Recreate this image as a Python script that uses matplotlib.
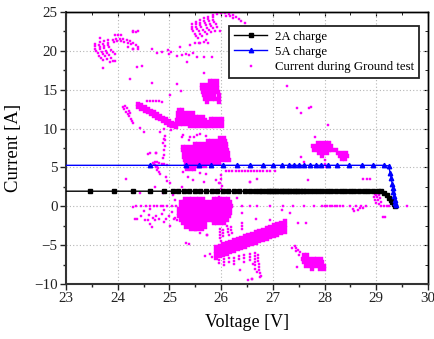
import matplotlib
matplotlib.use("Agg")
import matplotlib.pyplot as plt
from matplotlib.ticker import MultipleLocator

plt.rcParams["font.family"] = ["Liberation Serif", "DejaVu Serif"]

# ---------------------------------------------------------------- charge curves
v_2a = [22.9, 23.46, 23.92, 24.30, 24.63, 24.90, 25.07, 25.17, 25.28, 25.38,
        25.49, 25.60, 25.71, 25.82, 25.93, 26.03, 26.14, 26.25, 26.35, 26.46,
        26.56, 26.65, 26.73, 26.80, 26.86, 26.92, 26.97, 27.02, 27.07, 27.12,
        27.17, 27.22, 27.27, 27.32, 27.37, 27.42, 27.47, 27.53, 27.59, 27.65,
        27.72, 27.79, 27.87, 27.95, 28.04, 28.13, 28.22, 28.31, 28.40, 28.49,
        28.58, 28.67, 28.76, 28.85, 28.94, 29.03, 29.10, 29.16, 29.21, 29.25,
        29.28, 29.31, 29.34, 29.36]
i_2a = [1.95, 1.95, 1.95, 1.95, 1.95, 1.95, 1.95, 1.95, 1.95, 1.95,
        1.95, 1.95, 1.95, 1.95, 1.95, 1.95, 1.95, 1.95, 1.95, 1.95,
        1.95, 1.95, 1.95, 1.95, 1.95, 1.95, 1.95, 1.95, 1.95, 1.95,
        1.95, 1.95, 1.95, 1.95, 1.95, 1.95, 1.95, 1.95, 1.95, 1.95,
        1.95, 1.95, 1.95, 1.95, 1.95, 1.95, 1.95, 1.95, 1.95, 1.95,
        1.95, 1.95, 1.95, 1.95, 1.95, 1.95, 1.93, 1.75, 1.45, 1.10,
        0.80, 0.50, 0.25, 0.10]

v_5a = [22.9, 24.62, 25.33, 25.58, 25.81, 26.04, 26.30, 26.55, 26.81, 27.01,
        27.17, 27.31, 27.41, 27.51, 27.61, 27.72, 27.83, 27.94, 28.06, 28.24,
        28.48, 28.72, 28.94, 29.16, 29.24, 29.27, 29.29, 29.31, 29.32, 29.33,
        29.35, 29.36, 29.37, 29.38]
i_5a = [5.28, 5.28, 5.28, 5.28, 5.28, 5.28, 5.28, 5.28, 5.28, 5.28,
        5.28, 5.28, 5.28, 5.28, 5.28, 5.28, 5.28, 5.28, 5.28, 5.28,
        5.28, 5.28, 5.28, 5.28, 5.20, 4.30, 3.60, 2.90, 2.30, 1.80,
        1.30, 0.80, 0.40, 0.15]

# ------------------------------------------------- ground test, isolated points
arcs_upper_left = [
    (23.57, 20.9), (23.565, 20.6), (23.57, 20.3), (23.585, 20.0), (23.61, 19.7), (23.64, 19.4), (23.67, 19.1), (23.71, 18.8),
    (23.65, 21.1), (23.645, 20.8), (23.65, 20.5), (23.665, 20.2), (23.69, 19.9), (23.72, 19.6), (23.75, 19.3), (23.79, 19.0),
    (23.73, 21.25), (23.725, 20.95), (23.73, 20.65), (23.745, 20.35), (23.77, 20.05), (23.80, 19.75), (23.83, 19.45), (23.87, 19.15),
    (23.81, 21.35), (23.81, 21.05), (23.82, 20.75), (23.84, 20.45), (23.87, 20.15), (23.90, 19.85), (23.94, 19.55),
    (23.90, 21.45), (23.97, 21.55), (24.04, 21.55), (24.11, 21.5), (24.18, 21.4), (24.24, 21.25), (24.30, 21.05), (24.35, 20.8), (24.39, 20.5),
    (23.92, 21.2), (23.99, 21.25), (24.06, 21.25), (24.13, 21.18), (24.19, 21.05), (24.25, 20.85),
    (23.66, 21.6), (23.95, 22.04), (24.01, 22.1), (24.06, 22.1), (24.30, 22.47), (24.36, 22.47),
    (23.71, 17.85), (23.85, 18.55), (23.95, 18.7), (23.90, 18.75), (24.30, 20.3), (24.38, 17.96),
    (24.24, 16.4), (24.19, 20.55), (24.29, 20.2),
]

arcs_upper_mid = [
    (25.43, 23.4), (25.43, 23.1), (25.44, 22.8), (25.46, 22.5), (25.49, 22.2), (25.52, 21.9), (25.56, 21.65),
    (25.51, 23.7), (25.51, 23.4), (25.52, 23.1), (25.54, 22.8), (25.57, 22.5), (25.60, 22.2), (25.64, 21.9),
    (25.59, 23.95), (25.59, 23.65), (25.60, 23.35), (25.62, 23.05), (25.65, 22.75), (25.68, 22.45), (25.72, 22.15),
    (25.67, 24.2), (25.67, 23.9), (25.68, 23.6), (25.70, 23.3), (25.73, 23.0), (25.76, 22.7), (25.80, 22.4),
    (25.75, 24.4), (25.75, 24.1), (25.76, 23.8), (25.78, 23.5), (25.81, 23.2), (25.84, 22.9), (25.88, 22.6),
    (25.84, 24.6), (25.84, 24.3), (25.85, 24.0), (25.87, 23.7), (25.90, 23.4), (25.93, 23.1),
    (25.92, 24.8), (26.00, 24.9), (26.08, 24.9), (26.16, 24.8), (26.23, 24.6), (26.29, 24.4), (26.34, 24.15), (26.38, 23.9),
    (26.10, 24.55), (26.17, 24.45), (26.23, 24.25),
    (25.66, 21.2), (25.75, 21.05), (25.98, 22.5), (26.46, 23.6), (25.58, 21.05), (25.70, 21.4),
]

scatter_upper = [
    (24.40, 20.2), (24.66, 20.2), (24.77, 19.76), (24.85, 19.9), (24.97, 20.1), (25.00, 19.6),
    (25.04, 19.9), (25.15, 19.3), (25.20, 20.5), (25.24, 19.5), (25.32, 19.6), (25.37, 19.5),
    (25.40, 20.75), (25.35, 18.6), (25.46, 19.7), (25.53, 19.25), (25.49, 21.0), (25.59, 21.05),
    (25.66, 19.25), (25.82, 19.25), (24.66, 15.9), (25.01, 14.3), (25.15, 15.7), (25.22, 14.9),
    (25.66, 17.2), (24.30, 22.55), (24.40, 22.55), (24.48, 18.0), (27.28, 15.5), (27.47, 12.6),
    (27.55, 12.0), (27.70, 12.7), (27.73, 12.75), (28.06, 10.5), (27.82, 8.9),
]

scatter_middle = [
    (24.62, 6.9), (24.75, 6.9), (24.91, 8.53), (24.88, 8.2), (25.04, 9.8), (24.50, 9.6),
    (24.43, 10.03), (24.82, 9.52), (25.27, 9.17), (25.37, 8.5), (25.47, 8.9), (25.59, 9.35),
    (24.90, 9.9), (24.92, 9.1), (24.90, 8.7), (24.91, 7.8), (24.89, 7.3), (24.90, 6.6),
    (24.88, 6.2), (24.93, 3.8), (24.95, 3.3), (24.59, 6.73), (24.75, 6.8), (24.17, 3.47),
    (24.43, 1.67), (24.72, 2.44), (24.88, 1.67), (25.07, 1.45), (25.11, 0.8), (25.24, 2.52),
    (25.01, 2.99), (25.27, 4.45), (25.59, 4.32), (25.66, 3.16), (25.71, 4.1), (25.91, 3.38),
    (25.95, 2.97), (25.46, 3.38), (25.36, 3.8), (25.95, 1.2), (26.56, 3.16), (26.30, 1.03),
    (26.00, 4.0), (26.00, 3.5), (25.98, 3.0), (26.02, 2.6), (26.00, 2.2), (26.03, 1.8),
    (24.68, 5.6), (24.72, 5.7), (24.76, 5.75), (24.80, 5.6), (24.85, 5.5), (24.90, 5.4),
    (24.72, 5.3), (24.74, 5.0), (24.77, 4.7), (24.79, 4.4), (24.81, 4.1), (24.95, 5.3),
    (24.70, 5.45), (24.76, 5.2), (24.78, 4.9),
    (25.24, 8.96), (25.40, 8.96), (25.53, 9.2), (25.70, 9.0), (27.55, 6.3), (28.00, 5.9),
    (28.01, 5.5), (28.03, 5.1), (27.69, 3.38), (28.75, 3.5), (28.82, 3.5), (28.88, 3.5),
    (26.56, 3.08), (27.60, 5.7), (26.70, 3.5),
]

line_4p5 = [
    (26.10, 4.55), (26.16, 4.50), (26.22, 4.55), (26.28, 4.52), (26.34, 4.55), (26.40, 4.60),
    (26.46, 4.55), (26.52, 4.50), (26.58, 4.55), (26.64, 4.55), (26.70, 4.52), (26.76, 4.55),
    (26.82, 4.60), (26.88, 4.55), (26.95, 4.50), (27.05, 4.55),
]

line_zero = [
    (26.20, 0.05), (26.40, 0.05), (26.70, 0.05), (26.95, 0.05), (27.20, 0.05), (27.40, 0.05),
    (27.60, 0.05), (27.80, 0.05), (27.95, 0.05), (28.00, 0.05), (28.05, 0.05), (28.10, 0.05),
    (28.15, 0.05), (28.20, 0.05), (28.25, 0.05), (28.30, 0.05), (28.35, 0.05), (28.50, 0.05),
    (28.55, -0.3), (28.60, 0.05), (28.65, -0.45), (28.70, 0.05), (28.75, -0.2), (28.80, 0.05),
    (28.58, -0.6), (28.68, -0.15), (29.10, 0.05), (29.15, 0.05), (29.20, 0.05), (29.25, 0.05),
    (29.59, 0.05), (29.14, -1.35), (29.17, -1.35),
    (28.97, 1.6), (29.02, 1.7), (29.06, 1.5), (28.96, 1.2), (29.02, 1.2), (29.08, 1.1),
    (28.98, 0.8), (29.04, 0.8), (29.09, 0.6), (29.00, 0.4), (29.05, 0.3), (28.99, 1.45),
]

scatter_lower_left = [
    (24.35, 0.0), (24.45, 0.0), (24.55, 0.0), (24.62, 0.0), (24.70, 0.0), (24.76, 0.0),
    (24.83, 0.0), (24.88, 0.0), (24.95, 0.0), (25.05, 0.0), (25.12, 0.0), (24.30, -0.05),
    (24.50, -0.6), (24.62, -0.4), (24.90, -0.5), (25.05, -0.7), (24.45, -1.2), (24.60, -1.1),
    (24.75, -1.3), (24.85, -1.0), (25.00, -1.2), (25.10, -1.5), (24.38, -1.6), (24.52, -1.7),
    (24.68, -1.55), (24.80, -1.6), (24.93, -1.65), (25.08, -1.6), (25.15, -1.7), (24.33, -1.6),
    (24.62, -2.3), (24.90, -2.0), (25.02, -2.5), (24.66, -2.6), (24.58, -1.75), (24.72, -1.8),
]

scatter_lower = [
    (25.40, -3.06), (25.52, -3.06), (25.65, -3.06), (25.46, -2.0), (25.72, -3.7), (25.37, -4.8),
    (25.60, -3.4), (26.56, 0.04), (27.17, -0.48), (27.33, -0.9), (27.49, -2.1), (27.65, -2.1),
    (26.95, -1.77), (26.67, -1.63), (26.40, -0.9), (25.72, -3.7), (25.69, -6.4), (25.33, -4.77),
    (26.36, -8.2), (26.75, -9.06), (26.60, -9.4), (27.46, -7.77), (25.78, -6.1), (25.82, -6.5),
    (27.38, -5.3), (27.44, -5.4), (27.48, -5.6), (27.52, -5.9), (27.45, -5.8), (27.42, -5.15),
    (27.50, -6.3),
]

spikes = [
    (25.97, -2.9), (25.97, -3.3), (25.98, -3.7), (25.98, -4.1), (25.99, -4.5), (26.03, -3.0),
    (26.03, -3.4), (26.04, -3.8), (26.12, -2.5), (26.13, -2.9), (26.14, -3.3), (26.15, -3.7),
    (26.20, -2.6), (26.20, -3.0), (26.21, -3.4), (26.40, -2.1), (26.40, -2.5), (26.41, -2.9),
    (25.95, -6.9), (25.95, -7.3), (26.05, -6.8), (26.05, -7.2), (26.05, -7.6), (26.15, -6.7),
    (26.15, -7.1), (26.25, -6.6), (26.25, -7.0), (26.25, -7.4), (26.35, -6.4), (26.35, -6.8),
    (26.45, -6.3), (26.45, -6.7), (26.45, -7.1), (26.55, -6.1), (26.55, -6.5), (26.55, -6.9),
    (26.65, -6.0), (26.65, -6.4), (26.65, -6.8), (26.65, -7.2), (26.65, -7.6), (26.66, -8.0),
    (26.72, -6.2), (26.72, -6.6), (26.72, -7.0), (26.73, -7.4), (26.73, -7.8), (26.74, -8.2),
    (26.75, -8.6), (26.78, -8.9), (26.60, -9.3), (26.52, -9.5), (26.62, -7.4), (26.69, -8.4),
]

# ------------------------------------- ground test, dense clusters (row by row)
blob_15_rows = [
    (16.10, [25.78, 25.85, 25.92]),
    (15.65, [25.64, 25.71, 25.78, 25.85, 25.92]),
    (15.20, [25.64, 25.71, 25.78, 25.85, 25.93]),
    (14.75, [25.65, 25.72, 25.79, 25.86, 25.94]),
    (14.30, [25.66, 25.73, 25.80, 25.87, 25.95]),
    (13.85, [25.68, 25.75, 25.82, 25.89, 25.96]),
    (13.45, [25.72, 25.95]),
]

strip_12_v = [24.40, 24.46, 24.52, 24.58, 24.64, 24.70, 24.76, 24.82, 24.88, 24.94, 25.00, 25.06, 25.12]
strip_12_i_rows = [
    [13.20, 12.98, 12.76, 12.54, 12.30, 12.08, 11.86, 11.64, 11.42, 11.20, 10.98, 10.76, 10.55],
    [12.75, 12.53, 12.31, 12.09, 11.85, 11.63, 11.41, 11.19, 10.97, 10.75, 10.53, 10.32, 10.20],
]
strip_12_extra = [
    (24.56, 13.55), (24.62, 13.6), (24.68, 13.6), (24.74, 13.55), (24.80, 13.5), (24.85, 13.45),
    (24.10, 12.8), (24.13, 12.5), (24.16, 12.2), (24.19, 11.9), (24.22, 11.6), (24.25, 11.3),
    (24.28, 11.0), (24.30, 10.7), (24.15, 12.9), (24.18, 12.6), (24.21, 12.3), (24.24, 12.0),
]

blob_11_rows = [
    (12.40, [25.18, 25.25]),
    (11.95, [25.17, 25.24, 25.31, 25.38, 25.45]),
    (11.50, [25.16, 25.23, 25.30, 25.37, 25.44, 25.51, 25.58, 25.65]),
    (11.05, [25.15, 25.22, 25.29, 25.36, 25.43, 25.50, 25.57, 25.64, 25.69]),
    (10.60, [25.20, 25.27, 25.34, 25.41, 25.48, 25.55, 25.62, 25.69]),
    (10.30, [25.40, 25.47, 25.54, 25.61, 25.68]),
    (11.30, [25.80, 25.87, 25.94, 26.01]),
    (10.85, [25.74, 25.81, 25.88, 25.95, 26.02]),
    (10.40, [25.73, 25.80, 25.87, 25.94, 26.01]),
]

blob_7_rows = [
    (8.80, [25.98, 26.05]),
    (8.40, [25.74, 25.81, 25.88, 25.95, 26.02, 26.08]),
    (8.00, [25.49, 25.56, 25.63, 25.70, 25.77, 25.84, 25.91, 25.98, 26.05, 26.10]),
    (7.60, [25.26, 25.33, 25.40, 25.47, 25.54, 25.61, 25.68, 25.75, 25.82, 25.89, 25.96, 26.03, 26.10]),
    (7.20, [25.26, 25.33, 25.40, 25.47, 25.54, 25.61, 25.68, 25.75, 25.82, 25.89, 25.96, 26.03, 26.11]),
    (6.80, [25.28, 25.35, 25.42, 25.49, 25.56, 25.63, 25.70, 25.77, 25.84, 25.91, 25.98, 26.05, 26.13]),
    (6.40, [25.29, 25.36, 25.43, 25.50, 25.57, 25.64, 25.71, 25.78, 25.85, 25.92, 25.99, 26.06, 26.14]),
    (6.00, [25.30, 25.37, 25.44, 25.51, 25.58, 25.65, 25.72, 25.79, 25.86, 25.93, 26.00, 26.07, 26.15]),
    (5.60, [25.32, 25.39, 25.46, 25.53, 25.60, 25.67, 25.74, 25.81, 25.88, 25.95]),
    (5.20, [25.33, 25.40, 25.47, 25.54, 25.61, 25.68]),
    (4.80, [25.34, 25.41, 25.47]),
]

blob_28_rows = [
    (8.20, [27.88, 27.95, 28.02, 28.09]),
    (7.75, [27.78, 27.85, 27.92, 27.99, 28.06, 28.13]),
    (7.30, [27.80, 27.87, 27.94, 28.01, 28.08, 28.15, 28.22]),
    (6.85, [27.90, 27.97, 28.04, 28.26, 28.33, 28.41]),
    (6.45, [27.96, 28.30, 28.37, 28.44]),
    (6.05, [28.34, 28.40]),
]

blob_0_rows = [
    (1.00, [25.30, 25.37, 25.44, 25.51, 25.58, 25.65, 25.86, 25.93, 26.00, 26.07, 26.14]),
    (0.55, [25.22, 25.29, 25.36, 25.43, 25.50, 25.57, 25.64, 25.71, 25.78, 25.85, 25.92, 25.99, 26.06, 26.13, 26.18]),
    (0.10, [25.22, 25.29, 25.36, 25.43, 25.50, 25.57, 25.64, 25.71, 25.76, 25.83, 25.90, 25.97, 26.04, 26.11, 26.19]),
    (-0.35, [25.19, 25.26, 25.33, 25.40, 25.47, 25.54, 25.61, 25.68, 25.75, 25.82, 25.89, 25.96, 26.03, 26.10, 26.18]),
    (-0.80, [25.19, 25.26, 25.33, 25.40, 25.47, 25.54, 25.61, 25.68, 25.75, 25.82, 25.89, 25.96, 26.03, 26.10, 26.17]),
    (-1.25, [25.19, 25.26, 25.33, 25.40, 25.47, 25.54, 25.61, 25.68, 25.75, 25.82, 25.89, 25.96, 26.03, 26.10, 26.16]),
    (-1.70, [25.22, 25.29, 25.36, 25.43, 25.50, 25.57, 25.64, 25.71, 25.78, 25.85, 25.92, 25.99, 26.06, 26.12]),
    (-2.15, [25.26, 25.33, 25.40, 25.47, 25.54, 25.61, 25.68, 25.86, 25.93, 26.00, 26.06]),
    (-2.60, [25.33, 25.40, 25.47, 25.54, 25.61, 25.68]),
    (-2.95, [25.45, 25.52, 25.59]),
]

strip_neg_v = [25.90, 25.97, 26.04, 26.11, 26.18, 26.25, 26.32, 26.39, 26.46, 26.53,
               26.60, 26.67, 26.74, 26.81, 26.88, 26.95, 27.02, 27.09, 27.16, 27.23]
strip_neg_i_rows = [
    [-5.25, -5.08, -4.90, -4.73, -4.55, -4.38, -4.20, -4.03, -3.85, -3.68,
     -3.50, -3.33, -3.15, -2.98, -2.80, -2.63, -2.45, -2.28, -2.10, -1.93],
    [-5.70, -5.53, -5.35, -5.18, -5.00, -4.83, -4.65, -4.48, -4.30, -4.13,
     -3.95, -3.78, -3.60, -3.43, -3.25, -3.08, -2.90, -2.73, -2.55, -2.38],
    [-6.15, -5.98, -5.80, -5.63, -5.45, -5.28, -5.10, -4.93, -4.75, -4.58,
     -4.40, -4.23, -4.05, -3.88, -3.70, -3.53, -3.35, -3.18, -3.00, -2.83],
    [-6.60, -6.43, -6.25, -6.08, -5.90, -5.73, -5.55, -5.38, -5.20, -5.03,
     -4.85, -4.68, -4.50, -4.33, -4.15, -3.98, -3.80, -3.63, -3.45, -3.28],
]

blob_neg7_rows = [
    (-6.30, [27.60, 27.66]),
    (-6.75, [27.58, 27.65, 27.72, 27.79, 27.86, 27.93]),
    (-7.20, [27.60, 27.67, 27.74, 27.81, 27.88, 27.95]),
    (-7.65, [27.64, 27.71, 27.78, 27.85, 27.92, 27.99]),
    (-8.00, [27.75, 27.92, 27.99]),
]

# ------------------------------------------------------------- assemble points
sparse_groups = [arcs_upper_left, arcs_upper_mid, scatter_upper, scatter_middle,
                 line_4p5, line_zero, scatter_lower_left, scatter_lower, spikes,
                 strip_12_extra]
sparse_v, sparse_i = [], []
for group in sparse_groups:
    for v, i in group:
        sparse_v.append(v)
        sparse_i.append(i)

dense_v, dense_i = [], []
for rows in [blob_15_rows, blob_11_rows, blob_7_rows, blob_28_rows, blob_0_rows, blob_neg7_rows]:
    for cur, volts in rows:
        for v in volts:
            dense_v.append(v)
            dense_i.append(cur)
for row in strip_12_i_rows:
    dense_v.extend(strip_12_v)
    dense_i.extend(row)
for row in strip_neg_i_rows:
    dense_v.extend(strip_neg_v)
    dense_i.extend(row)

# ------------------------------------------------------------------- drawing
MAGENTA = "#ff00ff"

fig = plt.figure(figsize=(4.34, 3.39), dpi=100)
ax = fig.add_axes([0.152, 0.162, 0.834, 0.8025])

ax.plot(dense_v, dense_i, ls="none", marker="s", ms=3.2, mfc=MAGENTA, mec=MAGENTA,
        mew=0.3, zorder=2)
ax.plot(sparse_v, sparse_i, ls="none", marker="s", ms=1.9, mfc=MAGENTA, mec=MAGENTA,
        mew=0.3, zorder=2, label="Current during Ground test")

ax.plot(v_2a, i_2a, color="black", lw=1.0, marker="s", ms=2.5, mfc="black",
        mec="black", zorder=4, label="2A charge")
ax.plot(v_5a, i_5a, color="#0000ff", lw=1.0, marker="^", ms=3.2, mfc="#0000ff",
        mec="#0000ff", zorder=4, label="5A charge")

ax.set_xlim(23, 30)
ax.set_ylim(-10, 25)
ax.set_xticks(range(23, 31))
ax.set_yticks(range(-10, 26, 5))
ax.xaxis.set_minor_locator(MultipleLocator(0.5))
ax.yaxis.set_minor_locator(MultipleLocator(2.5))
ax.tick_params(which="major", direction="out", length=4, width=1.0,
               labelsize=10.8, pad=2, colors="#222222")
ax.tick_params(which="minor", direction="out", length=2.5, width=1.0,
               colors="#222222")

top = ax.secondary_xaxis("top")
top.set_xticks(range(23, 31))
top.xaxis.set_minor_locator(MultipleLocator(0.5))
top.tick_params(which="major", direction="in", length=3, labeltop=False)
top.tick_params(which="minor", direction="in", length=2, labeltop=False)
top.spines["top"].set_linewidth(1.0)
right = ax.secondary_yaxis("right")
right.set_yticks(range(-10, 26, 5))
right.yaxis.set_minor_locator(MultipleLocator(2.5))
right.tick_params(which="major", direction="in", length=3, labelright=False)
right.tick_params(which="minor", direction="in", length=2, labelright=False)
right.spines["right"].set_linewidth(1.0)

for side in ("left", "bottom"):
    ax.spines[side].set_linewidth(1.5)
    ax.spines[side].set_color("#333333")
for side in ("top", "right"):
    ax.spines[side].set_linewidth(1.0)

ax.grid(True, which="major", ls=(0, (1, 2)), color="#b5b5b5", lw=0.8)
ax.set_axisbelow(True)

ax.set_xlabel("Voltage [V]", fontsize=13, labelpad=6)
ax.set_ylabel("Current [A]", fontsize=13.5, labelpad=9)

handles, labels = ax.get_legend_handles_labels()
order = [labels.index("2A charge"), labels.index("5A charge"),
         labels.index("Current during Ground test")]
leg = ax.legend([handles[k] for k in order], [labels[k] for k in order],
                loc="upper right", bbox_to_anchor=(0.975, 0.948),
                borderaxespad=0, fontsize=9.3, fancybox=False, framealpha=1,
                edgecolor="#222222", handlelength=2.6, handletextpad=0.6,
                labelspacing=0.25, borderpad=0.35, markerscale=1.0)
leg.get_frame().set_linewidth(1.3)

fig.savefig("out.png", dpi=100)
